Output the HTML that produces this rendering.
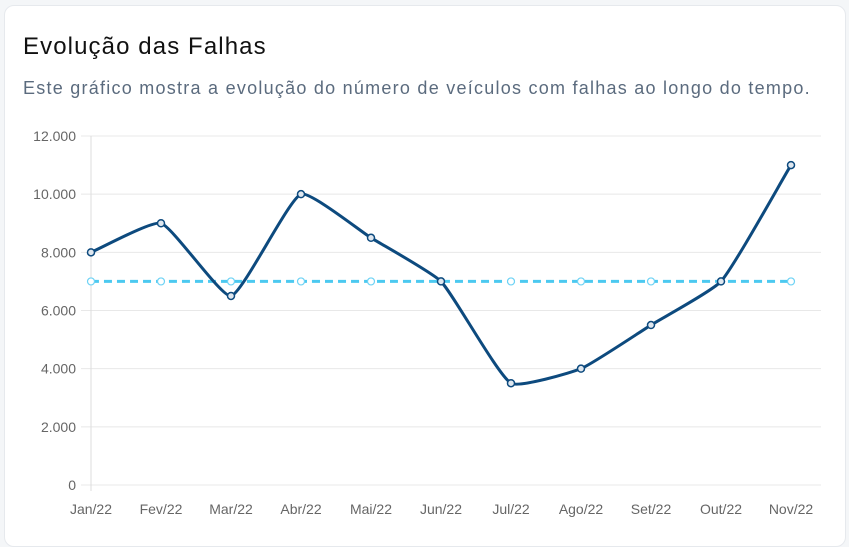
<!DOCTYPE html>
<html><head><meta charset="utf-8"><style>
body{margin:0;width:849px;height:534px;background:#f4f6f8;font-family:"Liberation Sans",sans-serif;overflow:hidden}
.card{position:absolute;left:4px;top:5px;width:840px;height:540px;background:#fff;border:1px solid #e6e9ed;border-radius:10px}
h1{position:absolute;left:23px;top:33px;margin:0;font-size:24px;letter-spacing:1.1px;font-weight:normal;color:#111}
p{position:absolute;left:23px;top:78px;margin:0;font-size:18px;letter-spacing:1.25px;color:#5b6b7e;white-space:nowrap}
svg{position:absolute;left:0;top:0}
</style></head><body>
<div class="card"></div>
<h1>Evolução das Falhas</h1>
<p>Este gráfico mostra a evolução do número de veículos com falhas ao longo do tempo.</p>
<svg id="c" width="849" height="534"></svg>
<script>
const categories=["Jan/22","Fev/22","Mar/22","Abr/22","Mai/22","Jun/22","Jul/22","Ago/22","Set/22","Out/22","Nov/22"];
const failures=[8000,9000,6500,10000,8500,7000,3500,4000,5500,7000,11000];
const average=[7000,7000,7000,7000,7000,7000,7000,7000,7000,7000,7000];
const yTicks=[0,2000,4000,6000,8000,10000,12000];
const yTickLabels=["0","2.000","4.000","6.000","8.000","10.000","12.000"];
const svg=document.getElementById('c');const NS="http://www.w3.org/2000/svg";
const x0=91,x1=791,yb=485,yt=136,ymax=12000;
const X=i=>x0+i*(x1-x0)/(categories.length-1);
const Y=v=>yb-(v/ymax)*(yb-yt);
function mk(t,a,txt){const e=document.createElementNS(NS,t);for(const k in a)e.setAttribute(k,a[k]);if(txt!==undefined)e.textContent=txt;svg.appendChild(e);return e;}
yTicks.forEach((v,i)=>{
 const g=mk('line',{x1:81,x2:x1+30,y1:Y(v),y2:Y(v),stroke:'#e8e8e8','stroke-width':1});
 
 
 const t=mk('text',{x:76,y:Y(v)+5,'text-anchor':'end','font-size':14,fill:'#666','font-family':'Liberation Sans, sans-serif'},yTickLabels[i]);
 
 
});
const ax=mk('line',{x1:x0,x2:x0,y1:yt,y2:yb+6,stroke:'#ddd','stroke-width':1});


categories.forEach((c,i)=>{
 const t=mk('text',{x:X(i),y:yb+29,'text-anchor':'middle','font-size':14,fill:'#666','font-family':'Liberation Sans, sans-serif'},c);
 
 
});
function smooth(vals){
 const p=vals.map((v,i)=>[X(i),Y(v)]);const t=0.15;let d=`M${p[0][0]},${p[0][1]}`;
 const cps=p.map((c,i)=>{const pr=p[i-1]||c,nx=p[i+1]||c;
  const d01=Math.hypot(c[0]-pr[0],c[1]-pr[1]),d12=Math.hypot(nx[0]-c[0],nx[1]-c[1]);
  let s01=d01/(d01+d12)||0,s12=d12/(d01+d12)||0;const fa=t*s01,fb=t*s12;
  return {p:[c[0]-fa*(nx[0]-pr[0]),c[1]-fa*(nx[1]-pr[1])],n:[c[0]+fb*(nx[0]-pr[0]),c[1]+fb*(nx[1]-pr[1])]};});
 for(let i=1;i<p.length;i++)d+=` C${cps[i-1].n[0]},${cps[i-1].n[1]} ${cps[i].p[0]},${cps[i].p[1]} ${p[i][0]},${p[i][1]}`;
 return d;}
const avg=mk('path',{d:smooth(average),fill:'none',stroke:'#4cc9f0','stroke-width':3,'stroke-dasharray':'8 5'});


average.forEach((v,i)=>{const c=mk('circle',{cx:X(i),cy:Y(v),r:3.5,fill:'#fff',stroke:'#6fd3f5','stroke-width':1.2});
 
 });
const ln=mk('path',{d:smooth(failures),fill:'none',stroke:'#0d4a7e','stroke-width':3,'stroke-linejoin':'round'});


failures.forEach((v,i)=>{const c=mk('circle',{cx:X(i),cy:Y(v),r:3.5,fill:'#dfe7ef',stroke:'#0d4a7e','stroke-width':1.5});
 
 });
</script>
</body></html>
